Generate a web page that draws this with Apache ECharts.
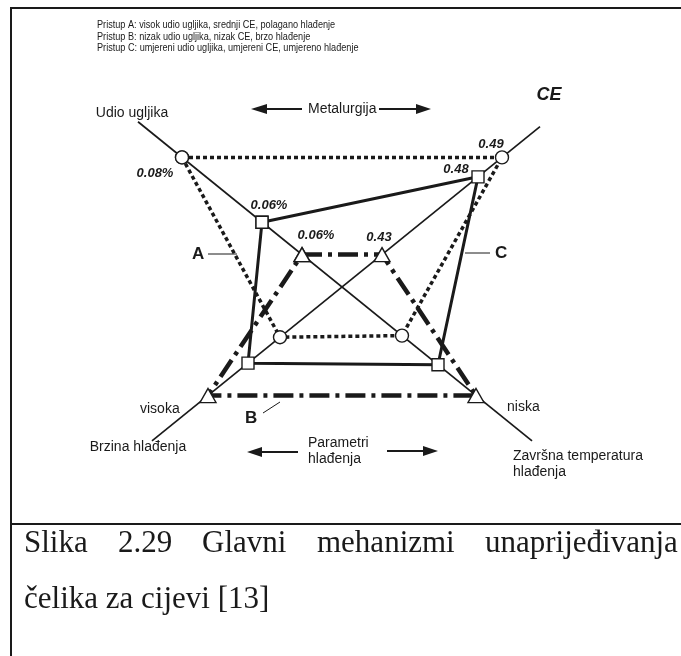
<!DOCTYPE html>
<html>
<head>
<meta charset="utf-8">
<script src="https://cdn.jsdelivr.net/npm/echarts@6.0.0/dist/echarts.min.js"></script>
<style>
html, body { margin: 0; padding: 0; background: #fff; }
#chart { width: 681px; height: 656px; }
</style>
</head>
<body>
<div id="chart"></div>
<script>
// the four axes of the diagram, clockwise from top-left
const axisNames = ['Udio ugljika', 'CE', 'Završna temperatura\nhlađenja', 'Brzina hlađenja']
const axisLength = [1.02, 0.99, 0.95, 0.95]

// where each approach sits on the four axes (0 = centre, 1 = axis end)
const approachA = [0.80, 0.80, 0.30, 0.31]
const approachB = [0.20, 0.20, 0.67, 0.67]
const approachC = [0.40, 0.68, 0.48, 0.47]

// values printed next to the points (only carbon and CE are labelled)
const labelsA = ['0.08%', '0.49', '', '']
const labelsB = ['0.06%', '0.43', '', '']
const labelsC = ['0.06%', '0.48', '', '']

const legendLines = [
    'Pristup A: visok udio ugljika, srednji CE, polagano hlađenje',
    'Pristup B: nizak udio ugljika, nizak CE, brzo hlađenje',
    'Pristup C: umjereni udio ugljika, umjereni CE, umjereno hlađenje'
]
const captionLine1 = ['Slika', '2.29', 'Glavni', 'mehanizmi', 'unaprijeđivanja']
const captionLine2 = 'čelika za cijevi [13]'

// axis directions in the X layout: top-left, top-right, bottom-right, bottom-left
const dirs = [[-1, 1], [1, 1], [1, -1], [-1, -1]]
const onAxis = (i, v) => [dirs[i][0] * v, dirs[i][1] * v]

const ink = '#1a1a1a'
const sans = '"Liberation Sans", Arial, sans-serif'
const serif = '"Liberation Serif", "Times New Roman", serif'

const valueLabel = {
    color: ink,
    fontFamily: sans,
    fontSize: 13,
    fontWeight: 'bold',
    fontStyle: 'italic',
    position: 'inside',
    align: 'center',
    verticalAlign: 'middle'
}

const polygon = (name, vals, labels, offsets, symbol, size, lineType, width) => {
    const pts = vals.map((v, i) => ({
        value: onAxis(i, v),
        label: labels[i] ? Object.assign({ show: true, formatter: labels[i], offset: offsets[i] }, valueLabel) : { show: false }
    }))
    pts.push({ value: pts[0].value, label: { show: false } })
    return {
        type: 'line',
        name: name,
        data: pts,
        z: 3,
        symbol: symbol,
        symbolSize: size,
        showAllSymbol: true,
        itemStyle: { color: '#fff', borderColor: ink, borderWidth: 1.4 },
        lineStyle: { color: ink, width: width, type: lineType, cap: 'butt' },
        emphasis: { disabled: true }
    }
}

const axisLabelStyle = [
    { fontSize: 14, offset: [-6, -9] },
    { fontSize: 18, fontWeight: 'bold', fontStyle: 'italic', offset: [9, -32] },
    { fontSize: 14, align: 'left', offset: [-19, 23], lineHeight: 16 },
    { fontSize: 14, offset: [-14, 6] }
]
const axisLine = (a, b) => ({
    type: 'line',
    z: 2,
    symbol: 'circle',
    symbolSize: 0,
    data: [a, b].map(i => ({
        value: onAxis(i, axisLength[i]),
        label: Object.assign({
            show: true, formatter: axisNames[i], color: ink, fontFamily: sans,
            position: 'inside', align: 'center', verticalAlign: 'middle'
        }, axisLabelStyle[i])
    })),
    lineStyle: { color: ink, width: 1.7 },
    emphasis: { disabled: true }
})

const txt = (x, y, text, font, extra) => ({
    type: 'text', x: x, y: y, z: 10,
    style: Object.assign({ text: text, font: font, fill: ink, verticalAlign: 'middle' }, extra || {})
})
const seg = (x1, y1, x2, y2, w) => ({
    type: 'line', z: 10,
    shape: { x1: x1, y1: y1, x2: x2, y2: y2 },
    style: { stroke: ink, lineWidth: w || 1 }
})
const head = (pts) => ({ type: 'polygon', z: 10, shape: { points: pts }, style: { fill: ink } })
// the legend is set in a condensed face in the original
const narrowTxt = (x, y, text) => Object.assign(txt(x, y, text, '10.5px ' + sans), { scaleX: 0.87 })

// caption, first line justified between the borders
const captionX = [24, 118, 202, 317, 485]
const graphics = [
    seg(11, 7, 11, 656, 2),
    seg(10, 8, 681, 8, 2),
    seg(10, 524, 681, 524, 2),
    narrowTxt(97, 25, legendLines[0]),
    narrowTxt(97, 37, legendLines[1]),
    narrowTxt(97, 48, legendLines[2]),
    txt(308, 109, 'Metalurgija', '14px ' + sans),
    seg(265, 109, 302, 109, 2), head([[251, 109], [267, 104], [267, 114]]),
    seg(379, 109, 418, 109, 2), head([[431, 109], [416, 104], [416, 114]]),
    txt(308, 443, 'Parametri', '14px ' + sans),
    txt(308, 459, 'hlađenja', '14px ' + sans),
    seg(261, 452, 298, 452, 2), head([[247, 452], [262, 447], [262, 457]]),
    seg(387, 451, 424, 451, 2), head([[438, 451], [423, 446], [423, 456]]),
    txt(192, 254, 'A', 'bold 17px ' + sans),
    seg(208, 254, 237, 254, 1),
    txt(495, 253, 'C', 'bold 17px ' + sans),
    seg(465, 253, 490, 253, 1),
    txt(245, 418, 'B', 'bold 17px ' + sans),
    seg(263, 413, 280, 402, 1),
    txt(140, 409, 'visoka', '14px ' + sans),
    txt(507, 407, 'niska', '14px ' + sans),
    txt(24, 599.5, captionLine2, '31px ' + serif)
]
captionLine1.forEach((w, i) => graphics.push(txt(captionX[i], 543.5, w, '31px ' + serif)))

const chart = echarts.init(document.getElementById('chart'))
chart.setOption({
    animation: false,
    backgroundColor: '#fff',
    grid: { left: 42, right: 39, top: 44, bottom: 126 },
    xAxis: { type: 'value', min: -1.5, max: 1.5, show: false },
    yAxis: { type: 'value', min: -1.5, max: 1.5, show: false },
    graphic: graphics,
    series: [
        axisLine(0, 2),
        axisLine(1, 3),
        polygon('A', approachA, labelsA, [[-27, 16], [-11, -13]], 'circle', 13, [4, 3], 3.5),
        polygon('B', approachB, labelsB, [[14, -19], [-3, -17]], 'triangle', [16, 14], [20, 6, 4, 6], 4.5),
        polygon('C', approachC, labelsC, [[7, -17], [-22, -7]], 'rect', 12, 'solid', 3)
    ]
})
</script>
</body>
</html>
